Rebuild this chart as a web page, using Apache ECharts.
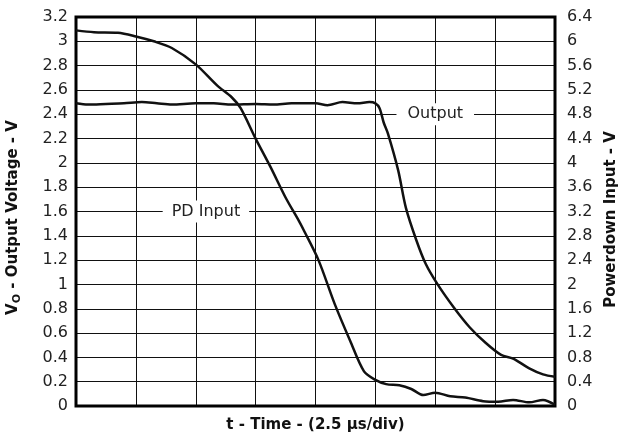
<!DOCTYPE html>
<html>
<head>
<meta charset="utf-8">
<script src="https://cdn.jsdelivr.net/npm/echarts@6/dist/echarts.min.js"></script>
<style>
html,body{margin:0;padding:0;background:#fff;}
#c{width:623px;height:439px;}
</style>
</head>
<body>
<div id="c"></div>
<script>
// Time in divisions (2.5 us/div)
var outputTime = [0, 0.2, 0.5, 0.8, 1.1, 1.35, 1.6, 2.0, 2.3, 2.6, 3.0, 3.3, 3.6, 4.0, 4.2, 4.45, 4.7, 4.9, 5.0, 5.07, 5.14, 5.21, 5.38, 5.51, 5.68, 5.84, 6.04, 6.31, 6.57, 6.84, 7.1, 7.3, 7.57, 7.8, 8.0];
var outputVolt = [2.49, 2.48, 2.485, 2.49, 2.50, 2.49, 2.48, 2.49, 2.49, 2.48, 2.485, 2.48, 2.49, 2.49, 2.475, 2.50, 2.49, 2.50, 2.49, 2.45, 2.33, 2.24, 1.94, 1.63, 1.37, 1.17, 1.0, 0.81, 0.65, 0.52, 0.42, 0.39, 0.31, 0.26, 0.24];
var pdTime = [0, 0.3, 0.7, 1.0, 1.3, 1.6, 2.0, 2.36, 2.6, 2.75, 3.0, 3.25, 3.5, 3.72, 3.8, 4.05, 4.32, 4.58, 4.81, 5.0, 5.18, 5.4, 5.6, 5.8, 6.0, 6.25, 6.5, 6.8, 7.05, 7.3, 7.57, 7.8, 8.0];
var pdVolt = [6.18, 6.15, 6.14, 6.08, 6.0, 5.89, 5.62, 5.27, 5.08, 4.9, 4.4, 3.93, 3.43, 3.05, 2.9, 2.4, 1.68, 1.07, 0.57, 0.43, 0.36, 0.34, 0.28, 0.18, 0.22, 0.16, 0.14, 0.08, 0.07, 0.1, 0.06, 0.1, 0.02];
var leftTicks = {min: 0, max: 3.2, step: 0.2};
var rightTicks = {min: 0, max: 6.4, step: 0.4};
var outputLabel = {text: 'Output', at: [6, 2.4]};
var pdLabel = {text: 'PD Input', at: [2.17, 3.2]};

function zip(a, b) { return a.map(function (v, i) { return [v, b[i]]; }); }
function fmt(v) { return String(Math.round(v * 10) / 10); }

var FONT = '"DejaVu Sans", sans-serif';
var chart = echarts.init(document.getElementById('c'), null, {renderer: 'canvas'});
chart.setOption({
  animation: false,
  backgroundColor: '#fff',
  grid: {left: 76, right: 68, top: 17, bottom: 33, containLabel: false, outerBoundsMode: 'none', show: true, borderColor: '#000', borderWidth: 3, backgroundColor: 'transparent', z: 3},
  xAxis: {
    type: 'value', min: 0, max: 8, interval: 1,
    axisLine: {show: false}, axisTick: {show: false}, axisLabel: {show: false},
    splitLine: {show: true, lineStyle: {color: '#111', width: 1}},
    name: 't - Time - (2.5 \u03bcs/div)', nameLocation: 'middle', nameGap: 12,
    nameTextStyle: {fontFamily: FONT, fontSize: 15, fontWeight: 'bold', color: '#111'}
  },
  yAxis: [{
    type: 'value', min: leftTicks.min, max: leftTicks.max, interval: leftTicks.step,
    axisLine: {show: false}, axisTick: {show: false},
    axisLabel: {formatter: fmt, fontFamily: FONT, fontSize: 16, color: '#222', margin: 8},
    splitLine: {show: true, lineStyle: {color: '#111', width: 1}},
    name: '{a|V}{b|O}{a| - Output Voltage - V}', nameLocation: 'middle', nameGap: 53,
    nameTextStyle: {padding: [0, 12, 0, 0], rich: {
      a: {fontFamily: FONT, fontSize: 15, fontWeight: 'bold', color: '#111', lineHeight: 19},
      b: {fontFamily: FONT, fontSize: 11, fontWeight: 'bold', color: '#111', lineHeight: 19, padding: [8, 0, 0, 0]}
    }}
  }, {
    type: 'value', min: rightTicks.min, max: rightTicks.max, interval: rightTicks.step,
    position: 'right',
    axisLine: {show: false}, axisTick: {show: false},
    axisLabel: {formatter: fmt, fontFamily: FONT, fontSize: 16, color: '#222', margin: 12},
    splitLine: {show: false},
    name: 'Powerdown Input - V', nameLocation: 'middle', nameGap: 43,
    nameTextStyle: {fontFamily: FONT, fontSize: 15, fontWeight: 'bold', color: '#111', padding: [0, 16, 0, 0]}
  }],
  series: [{
    name: 'Output', type: 'line', yAxisIndex: 0, data: zip(outputTime, outputVolt),
    showSymbol: false, smooth: 0.3, lineStyle: {color: '#111', width: 2.5}, z: 4,
    markPoint: {symbol: 'rect', symbolSize: 0, silent: true,
      label: {show: true, position: 'inside', formatter: outputLabel.text, fontFamily: FONT, fontSize: 16, color: '#222', backgroundColor: '#fff', padding: [3, 11, 3, 11]},
      data: [{coord: outputLabel.at}]}
  }, {
    name: 'PD Input', type: 'line', yAxisIndex: 1, data: zip(pdTime, pdVolt),
    showSymbol: false, smooth: 0.3, lineStyle: {color: '#111', width: 2.5}, z: 4,
    markPoint: {symbol: 'rect', symbolSize: 0, silent: true,
      label: {show: true, position: 'inside', formatter: pdLabel.text, fontFamily: FONT, fontSize: 16, color: '#222', backgroundColor: '#fff', padding: [3, 9, 3, 9]},
      data: [{coord: pdLabel.at}]}
  }]
});
</script>
</body>
</html>
